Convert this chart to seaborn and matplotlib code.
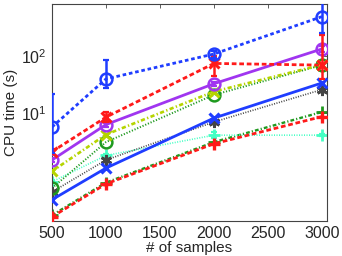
import matplotlib
matplotlib.use("Agg")
import matplotlib.pyplot as plt
import seaborn as sns
import numpy as np

samples = [500, 1000, 2000, 3000]

blue_o = [5.7, 40, 110, 500]
blue_o_lo = [2.0, 28, 95, 260]
blue_o_hi = [22, 86, 125, 1000]

red_x = [2.1, 8.5, 75, 70]
red_x_lo = [1.9, 7.0, 45, 40]
red_x_hi = [2.3, 10.5, 100, 240]

purple_o = [1.5, 6.3, 33, 135]
purple_o_lo = [1.4, 5.8, 30, 120]
purple_o_hi = [1.6, 6.8, 36, 150]

yg_x = [0.95, 4.2, 24, 71]
green_o = [0.48, 3.1, 21, 70]
cyan_plus = [0.62, 1.8, 4.1, 4.1]
cyan_plus_lo = [0.58, 1.7, 3.6, 3.9]
cyan_plus_hi = [0.66, 1.9, 4.7, 4.3]
gray_star = [0.41, 1.5, 7.0, 26]
blue_x = [0.30, 1.08, 8.2, 34]
red_plus = [0.15, 0.57, 2.9, 8.7]
green_plus = [0.16, 0.6, 3.1, 10.5]

sns.set_style("white")
plt.rcParams["font.family"] = ["Liberation Sans", "DejaVu Sans"]

fig = plt.figure(figsize=(3.42, 2.56), dpi=100)
ax = fig.add_axes([0.152, 0.137, 0.804, 0.847])

C_BLUE = "#1f3dff"
C_RED = "#ff1a1a"
C_PURPLE = "#a035f0"
C_YG = "#b5d400"
C_GREEN = "#1f9a1f"
C_CYAN = "#44ffc4"
C_GRAY = "#444444"

def series(y, color, marker, ls, lw, ms, mew, fill="none", z=2):
    sns.lineplot(x=samples, y=y, ax=ax, color=color, linestyle=ls, linewidth=lw,
                 marker=marker, markersize=ms, markeredgecolor=color,
                 markeredgewidth=mew, markerfacecolor=fill, zorder=z,
                 dash_capstyle="butt", solid_capstyle="butt")

def errs(y, lo, hi, color, z=2):
    y = np.array(y); lo = np.array(lo); hi = np.array(hi)
    ax.errorbar(samples, y, yerr=[y - lo, hi - y], fmt="none", ecolor=color,
                elinewidth=1.8, capsize=2.5, capthick=1.6, zorder=z)

series(red_plus, C_RED, "+", (0, (1.7, 1.0)), 2.0, 9, 2.4, z=3)
series(green_plus, C_GREEN, "+", (0, (1.6, 0.9, 0.5, 0.9)), 1.7, 9, 2.0, z=2)
series(cyan_plus, C_CYAN, "+", (0, (0.6, 0.9)), 1.2, 9, 2.0, z=2)
errs(cyan_plus, cyan_plus_lo, cyan_plus_hi, C_CYAN)
series(gray_star, C_GRAY, (6, 2, 0), (0, (0.6, 0.9)), 1.2, 8, 2.0, z=2)
series(blue_x, C_BLUE, "x", "-", 2.0, 7, 2.2, z=3)
series(green_o, C_GREEN, "o", (0, (0.6, 0.9)), 1.4, 8.5, 1.8, z=2)
series(yg_x, C_YG, "x", (0, (1.6, 0.9, 0.5, 0.9)), 1.9, 7, 2.2, z=3)
series(purple_o, C_PURPLE, "o", "-", 2.0, 8.5, 1.8, z=3)
errs(purple_o, purple_o_lo, purple_o_hi, C_PURPLE, z=3)
series(red_x, C_RED, "x", (0, (1.7, 1.0)), 2.0, 7, 2.2, z=4)
errs(red_x, red_x_lo, red_x_hi, C_RED, z=4)
series(blue_o, C_BLUE, "o", (0, (1.3, 1.0)), 2.0, 8.5, 1.8, z=5)
errs(blue_o, blue_o_lo, blue_o_hi, C_BLUE, z=5)

ax.set_yscale("log")
ax.set_xlim(500, 3046)
ax.set_ylim(0.127, 830)
ax.set_xticks([500, 1000, 1500, 2000, 2500, 3000])
ax.set_yticks([10, 100])
ax.yaxis.set_minor_locator(matplotlib.ticker.NullLocator())
ax.tick_params(direction="in", length=3, width=0.6, color="#444444",
               top=True, right=True, labelsize=11.5, pad=4)
for s in ax.spines.values():
    s.set_color("#444444")
    s.set_linewidth(0.8)
ax.set_xlabel("# of samples", fontsize=11, labelpad=0)
ax.set_ylabel("CPU time (s)", fontsize=11, labelpad=2)

fig.savefig("out.png", dpi=100)
